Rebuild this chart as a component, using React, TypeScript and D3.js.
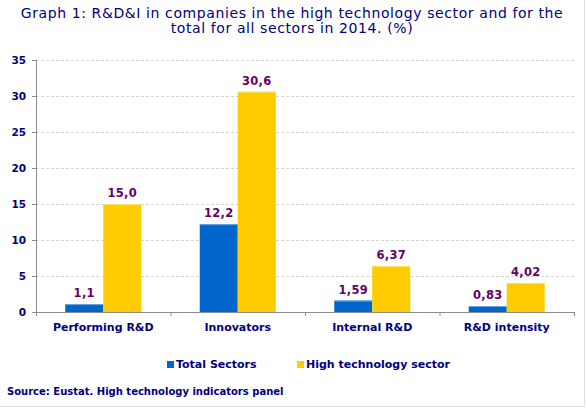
import React from "react";
import * as d3 from "d3";

// chart data
const categories = ["Performing R&D", "Innovators", "Internal R&D", "R&D intensity"];
const seriesNames = ["Total Sectors", "High technology sector"];
const totalSectors = [1.1, 12.2, 1.59, 0.83];
const highTech = [15.0, 30.6, 6.37, 4.02];
const valueLabels = [
  ["1,1", "12,2", "1,59", "0,83"],
  ["15,0", "30,6", "6,37", "4,02"],
];
const yTicks = [0, 5, 10, 15, 20, 25, 30, 35];
const colors = ["#0066CC", "#FFCC00"];
const highlights = ["#6FA8DC", "#FFE066"];

const W = 587;
const H = 410;
const margin = { left: 36, right: 13, top: 60, bottom: 98 };
const NAVY = "#000080";
const PURPLE = "#660066";
const FONT = "'DejaVu Sans', Verdana, sans-serif";

const App: React.FC = () => {
  const x = d3.scaleBand<string>()
    .domain(categories)
    .range([margin.left, W - margin.right])
    .padding(0);

  const xInner = d3.scaleBand<number>()
    .domain([0, 1])
    .range([0, x.bandwidth()])
    .paddingInner(0)
    .paddingOuter(0.77);

  const y = d3.scaleLinear()
    .domain([0, 35])
    .range([H - margin.bottom, margin.top]);

  const series = [totalSectors, highTech];
  const x0 = margin.left;
  const x1 = W - margin.right;
  const y0 = y(0);

  return (
    <svg
      width={W}
      height={H}
      style={{ position: "absolute", left: 0, top: 0, background: "#fff" }}
      fontFamily={FONT}
    >
      {/* title */}
      <text x={292} y={18} textAnchor="middle" fontSize={14} letterSpacing={0.6} fill={NAVY}>
        Graph 1: R&amp;D&amp;I in companies in the high technology sector and for the
      </text>
      <text x={292} y={33} textAnchor="middle" fontSize={14} letterSpacing={0.6} fill={NAVY}>
        total for all sectors in 2014. (%)
      </text>

      {/* gridlines */}
      {yTicks.filter(t => t > 0).map(t => (
        <line key={t} x1={x0} x2={x1} y1={y(t) + 0.5} y2={y(t) + 0.5}
          stroke="#d4d4d4" strokeDasharray="3,2" />
      ))}

      {/* y axis */}
      <line x1={x0 + 0.5} x2={x0 + 0.5} y1={y(35)} y2={y0} stroke="#8c8c8c" />
      {yTicks.map(t => (
        <g key={t}>
          <line x1={x0 - 4} x2={x0} y1={y(t) + 0.5} y2={y(t) + 0.5} stroke="#8c8c8c" />
          <text x={x0 - 10} y={y(t) + 4} textAnchor="end" fontSize={10.5} fontWeight="bold" fill={NAVY}>
            {t}
          </text>
        </g>
      ))}

      {/* bars */}
      {categories.map((c, i) => (
        <g key={c}>
          {series.map((s, k) => {
            const bx = (x(c) ?? 0) + (xInner(k) ?? 0);
            const by = y(s[i]);
            return (
              <g key={k}>
                <rect x={bx} y={by} width={xInner.bandwidth()} height={y0 - by} fill={colors[k]} />
                <rect x={bx} y={by} width={xInner.bandwidth()} height={1} fill={highlights[k]} />
                <text
                  x={bx + xInner.bandwidth() / 2}
                  y={by - 7}
                  textAnchor="middle"
                  fontSize={11.5}
                  fontWeight="bold"
                  letterSpacing={0.3}
                  fill={PURPLE}
                >
                  {valueLabels[k][i]}
                </text>
              </g>
            );
          })}
        </g>
      ))}

      {/* x axis */}
      <line x1={x0} x2={x1} y1={y0 + 0.5} y2={y0 + 0.5} stroke="#8c8c8c" />
      {[...categories.map(c => x(c) ?? 0), x1].map((p, i) => (
        <line key={i} x1={p + 0.5} x2={p + 0.5} y1={y0} y2={y0 + 4} stroke="#8c8c8c" />
      ))}
      {categories.map(c => (
        <text key={c} x={(x(c) ?? 0) + x.bandwidth() / 2} y={y0 + 18.5} textAnchor="middle"
          fontSize={11} fontWeight="bold" fill={NAVY}>
          {c}
        </text>
      ))}

      {/* legend */}
      {seriesNames.map((n, k) => {
        const lx = [167, 297][k];
        return (
          <g key={n}>
            <rect x={lx} y={361} width={7} height={7} fill={colors[k]} />
            <text x={lx + 9} y={368} fontSize={11} fontWeight="bold" fill={NAVY}>{n}</text>
          </g>
        );
      })}

      {/* source */}
      <text x={7} y={395} fontSize={10} fontWeight="bold" fill={NAVY}>
        Source: Eustat. High technology indicators panel
      </text>

      {/* frame */}
      <line x1={W - 2.5} x2={W - 2.5} y1={0} y2={H - 3} stroke="#e0e0e0" />
      <line x1={0} x2={W - 2} y1={H - 3.5} y2={H - 3.5} stroke="#e0e0e0" />
    </svg>
  );
};

export default App;
